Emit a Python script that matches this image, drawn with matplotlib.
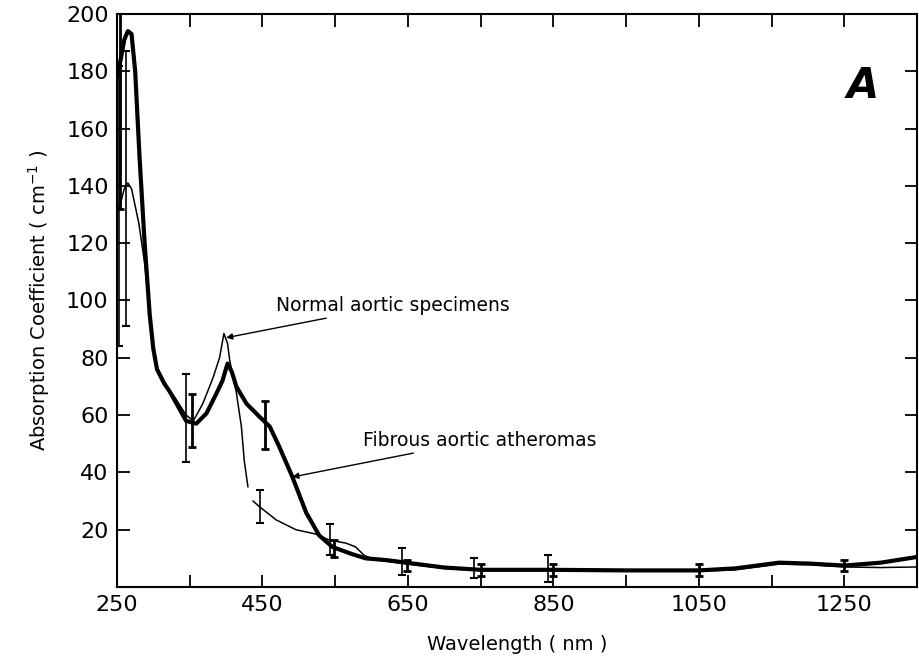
import numpy as np
import matplotlib
matplotlib.use("Agg")
import matplotlib.pyplot as plt
from matplotlib.ticker import FixedLocator, NullFormatter

# ---- data ----
fib_wl = [250, 255, 260, 265, 270, 275, 281, 288, 295, 300, 305, 315, 323, 345, 359,
          373, 387, 395, 402, 408, 414, 428, 446, 460, 473, 491, 510, 528, 546,
          573, 592, 620, 648, 700, 750, 850, 950, 1050, 1100, 1160, 1200, 1250,
          1300, 1350]
fib_val = [178, 184, 191, 194, 193, 180, 150, 120, 95, 83, 76, 71, 68, 58, 57,
           60.6, 67.7, 72, 78, 75, 70, 64, 59.4, 56, 49, 38.5, 26, 18, 14,
           11.5, 10, 9.4, 8.5, 6.8, 6, 6, 5.8, 5.8, 6.5, 8.5, 8.2, 7.5,
           8.5, 10.5]

norm_wl = [250, 255, 260, 265, 270, 275, 280, 288, 295, 300, 305, 315, 330, 345, 355,
           368, 382, 391, 397, 402, 405, 414, 421, 425, 430, 433, 437, 446, 469,
           496, 523, 542, 565, 578, 590, 605, 620, 650, 700, 750, 850, 950, 1050,
           1100, 1160, 1200, 1250, 1300, 1350]
norm_val = [131, 134, 139, 141, 139, 133, 127, 113, 97, 84, 77, 71, 66, 60, 58,
            64, 73, 80, 88.5, 85, 79, 68, 56, 44, 35, np.nan, 30, 28, 23.4,
            20, 18.5, 16.4, 15.3, 14, 11, 9.5, 9, 8, 6.5, 5.8, 5.8, 5.8, 5.5,
            6, 8, 7.8, 7, 6.8, 7]

norm_err_wl = [253, 263, 345, 446, 543, 642, 741, 843]
norm_err_val = [133, 139, 59, 28, 16.5, 8.8, 6.5, 6.5]
norm_err = [49, 48, 15.5, 5.8, 5.5, 4.7, 3.5, 4.6]

fib_err_wl = [254, 353, 454, 549, 648, 750, 850, 1050, 1250]
fib_err_val = [180, 58, 56.5, 13.5, 7.5, 6, 6, 6, 7.5]
fib_err = [48, 9.3, 8.5, 3, 2, 2, 2, 2, 2]

x_labeled_ticks = [250, 450, 650, 850, 1050, 1250]
x_minor_ticks = [350, 550, 750, 950, 1150]
y_ticks = [20, 40, 60, 80, 100, 120, 140, 160, 180, 200]

plt.rcParams['font.family'] = ['DejaVu Sans']

fig = plt.figure(figsize=(9.19, 6.63), dpi=100)
ax = fig.add_axes([0.1273, 0.1146, 0.8707, 0.8644])

ax.plot(fib_wl, fib_val, color='black', lw=3.0, solid_capstyle='round',
        solid_joinstyle='round')
ax.plot(norm_wl, norm_val, color='black', lw=1.1, solid_joinstyle='round')

ax.errorbar(norm_err_wl, norm_err_val, yerr=norm_err, fmt='none', ecolor='black',
            elinewidth=1.2, capsize=3, capthick=1.5)
ax.errorbar(fib_err_wl, fib_err_val, yerr=fib_err, fmt='none', ecolor='black',
            elinewidth=2.0, capsize=3, capthick=2.0)

ax.set_xlim(250, 1350)
ax.set_ylim(0, 200)

ax.xaxis.set_major_locator(FixedLocator(x_labeled_ticks))
ax.xaxis.set_minor_locator(FixedLocator(x_minor_ticks))
ax.xaxis.set_minor_formatter(NullFormatter())
ax.yaxis.set_major_locator(FixedLocator(y_ticks))
ax.set_yticklabels([str(v) for v in y_ticks])

ax.tick_params(axis='both', which='both', direction='in', length=9, width=1.3,
               top=True, right=True, labelsize=16, pad=6)
for s in ax.spines.values():
    s.set_linewidth(1.5)

ax.set_xlabel('Wavelength ( nm )', fontsize=14, labelpad=14)
ax.set_ylabel('Absorption Coefficient ( cm$^{-1}$ )', fontsize=14, labelpad=10)

ax.annotate('Normal aortic specimens', xy=(400, 87), xytext=(469, 98.4),
            fontsize=13.5, ha='left', va='center',
            arrowprops=dict(arrowstyle='-|>', color='black', lw=1.0,
                            mutation_scale=9, shrinkA=3, shrinkB=0))
ax.annotate('Fibrous aortic atheromas', xy=(491, 38.4), xytext=(588, 51.3),
            fontsize=13.5, ha='left', va='center',
            arrowprops=dict(arrowstyle='-|>', color='black', lw=1.0,
                            mutation_scale=9, shrinkA=3, shrinkB=0))

ax.text(1275, 175, 'A', fontsize=30, fontweight='heavy', fontstyle='italic',
        ha='center', va='center')

fig.savefig('out.png', dpi=100)
